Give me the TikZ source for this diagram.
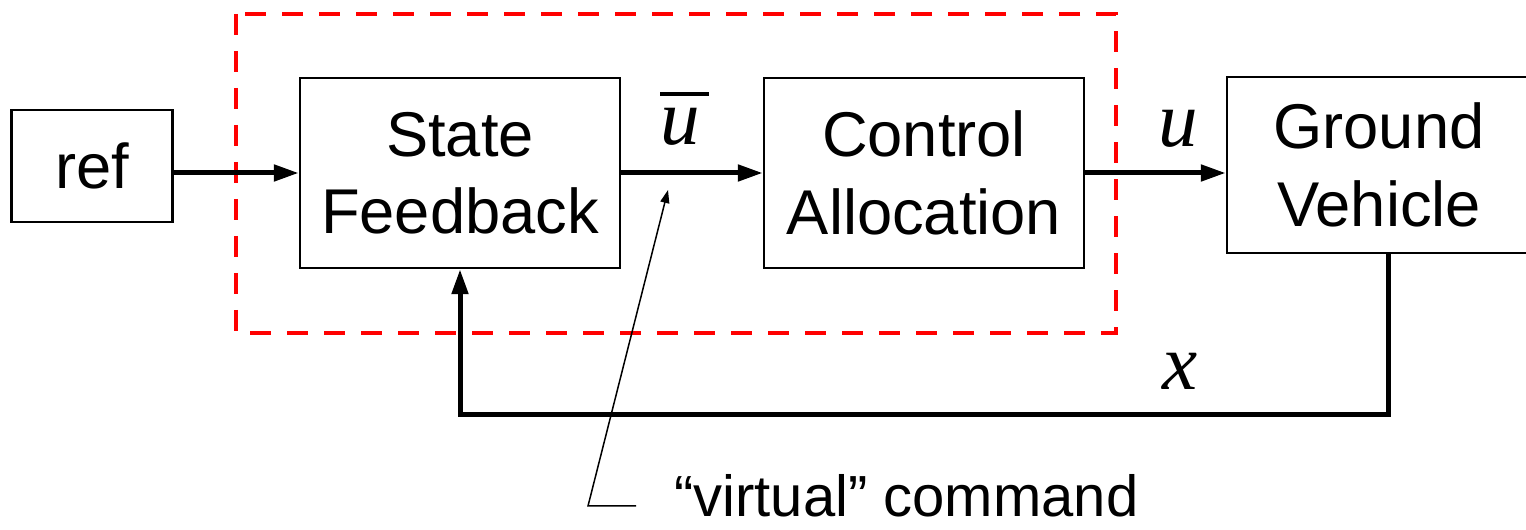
\documentclass[tikz,border=0pt]{standalone}
\usepackage{fontspec}
\setmainfont{Liberation Sans}
\newfontfamily\varfont{Liberation Serif}
\usetikzlibrary{arrows.meta}

\tikzset{
  block/.style={draw, line width=0.05cm, minimum width=6.4cm, minimum height=3.8cm,
    align=center, inner sep=0pt, font=\fontsize{36}{44}\selectfont},
  signal/.style={line width=0.1cm, -{Triangle[length=0.5cm, width=0.32cm]}},
  varlabel/.style={anchor=base, inner sep=0pt, font=\fontsize{45}{50}\selectfont\varfont\itshape},
  ctrlbox/.style={draw=red, line width=0.08cm, dash pattern=on 0.42cm off 0.32cm},
  pointer/.style={line width=0.03cm, -{Triangle[length=0.26cm, width=0.18cm]}}
}

\begin{document}
\begin{tikzpicture}

\useasboundingbox (0,0) rectangle (30.52,10.6);

% Controller boundary
\draw[ctrlbox] (4.72,10.32) rectangle (22.32,3.94);

% Blocks
\node[block, minimum width=3.22cm, minimum height=2.24cm] (ref) at (1.84,7.28) {ref};
\node[block] (sf) at (9.2,7.14) {State\\Feedback};
\node[block] (ca) at (18.48,7.14) {Control\\Allocation};
\node[block, minimum width=6.08cm, minimum height=3.52cm] (gv) at (27.58,7.3) {Ground\\Vehicle};

% Forward path
\draw[signal] (ref.east |- sf.west) -- (sf.west);
\draw[signal] (sf.east) -- (ca.west);
\draw[signal] (ca.east) -- (ca.east -| gv.west);

% Feedback path
\draw[signal] ([xshift=0.18cm]gv.south) -- ++(0,-3.2) -| (sf.south);

% Signal labels (bar drawn as a rule over u)
\node[varlabel] (ubar) at (13.6,7.7) {\rlap{\rule[0.62em]{0.62em}{0.045em}}u};
\node[varlabel] (u) at (23.56,7.66) {u};
\node[varlabel] (x) at (23.6,2.8) {x};

% Virtual command note
\node[anchor=base west, inner sep=0pt, font=\fontsize{33}{40}\selectfont] (virt) at (13.48,0.26) {“virtual” command};
\coordinate (vtail) at (12.72,0.48);
\coordinate (vtip) at (13.36,6.8);
\draw[pointer] (vtail) -- ++(-0.96,0) -- (vtip);

\end{tikzpicture}
\end{document}
